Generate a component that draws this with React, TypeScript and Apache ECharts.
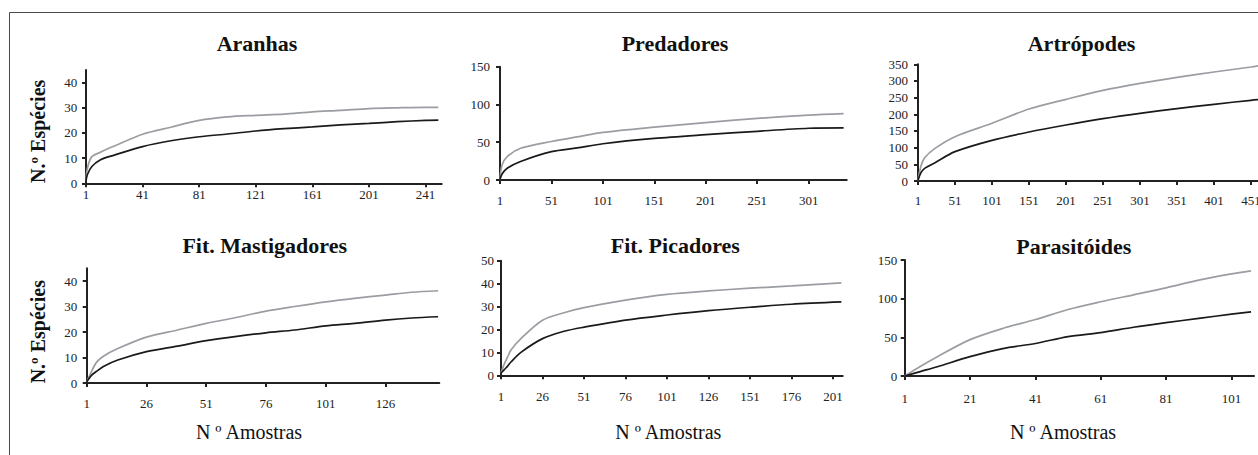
import React, { useEffect, useRef } from "react";
import * as echarts from "echarts";

// ---------- data ----------
const panelTitles = ["Aranhas", "Predadores", "Artrópodes", "Fit. Mastigadores", "Fit. Picadores", "Parasitóides"];
const yAxisTitle = "N.º Espécies";
const xAxisTitle = "N º Amostras";

const aranhasX = [1, 2, 5, 11, 21, 41, 61, 81, 101, 121, 141, 161, 181, 201, 221, 241, 250];
const aranhasEst = [1, 6, 10.5, 12.3, 14.8, 19.5, 22.3, 25, 26.4, 27, 27.5, 28.4, 29, 29.7, 30, 30.2, 30.2];
const aranhasObs = [1, 3.5, 6.6, 9.3, 11.2, 14.6, 16.9, 18.5, 19.6, 20.8, 21.7, 22.4, 23.2, 23.8, 24.5, 25, 25.1];

const predadoresX = [1, 3, 8, 21, 51, 76, 101, 151, 201, 251, 301, 335];
const predadoresEst = [1, 20, 31, 42, 51, 57, 63, 70, 76, 81.5, 86, 88];
const predadoresObs = [1, 8, 15.5, 24.5, 37.5, 42.5, 48, 55, 60, 64.5, 68.5, 69];

const artropodesX = [1, 5, 10, 24, 51, 101, 151, 201, 251, 301, 351, 401, 451, 462];
const artropodesEst = [2, 45, 70, 98, 133, 173, 216, 245, 272, 293, 311, 327, 342, 346];
const artropodesObs = [2, 25, 38, 55, 88, 122, 147, 168, 187, 203, 217, 230, 242, 244];

const mastigadoresX = [1, 3, 5, 8, 14, 26, 39, 51, 63, 76, 88, 101, 113, 126, 137, 148];
const mastigadoresEst = [0.5, 4.5, 8, 10.5, 13.5, 18, 20.8, 23.4, 25.6, 28.2, 30, 31.8, 33.2, 34.5, 35.6, 36.2];
const mastigadoresObs = [0.5, 3, 4.5, 6.5, 9, 12.3, 14.5, 16.6, 18.2, 19.7, 20.8, 22.4, 23.4, 24.7, 25.5, 26];

const picadoresX = [1, 3, 5, 7, 13, 26, 39, 51, 76, 101, 126, 151, 176, 206];
const picadoresEst = [1, 5, 8, 11, 16, 24, 27.3, 29.5, 32.8, 35.3, 36.8, 38, 39, 40.3];
const picadoresObs = [1, 2.5, 4, 5.8, 10, 16, 19.2, 21, 24.1, 26.3, 28.2, 29.7, 31, 32];

const parasitoidesX = [1, 6, 11, 21, 31, 41, 51, 61, 71, 81, 91, 101, 107];
const parasitoidesEst = [0, 13, 25, 47, 61.5, 73, 86, 96, 105, 114, 124, 132, 136];
const parasitoidesObs = [0, 6, 12, 25, 35.5, 42, 51, 56, 63, 69, 74.5, 80, 83];

const aranhasTicks = [1, 41, 81, 121, 161, 201, 241];
const predadoresTicks = [1, 51, 101, 151, 201, 251, 301];
const artropodesTicks = [1, 51, 101, 151, 201, 251, 301, 351, 401, 451];
const mastigadoresTicks = [1, 26, 51, 76, 101, 126];
const picadoresTicks = [1, 26, 51, 76, 101, 126, 151, 176, 201];
const parasitoidesTicks = [1, 21, 41, 61, 81, 101];

const yTicks40 = [0, 10, 20, 30, 40];
const yTicks50 = [0, 10, 20, 30, 40, 50];
const yTicks150 = [0, 50, 100, 150];
const yTicks350 = [0, 50, 100, 150, 200, 250, 300, 350];

// ---------- layout & style ----------
const FONT = "'Liberation Serif', 'Times New Roman', serif";
const GRAY = "#9a9da2";
const BLACK = "#1a1a1a";
const AXIS = "#222222";

const panels = [
  { x: aranhasX, est: aranhasEst, obs: aranhasObs, xt: aranhasTicks, yt: yTicks40, xMax: 252.4, yMax: 45,
    left: 86, top: 70.1, width: 355.7, height: 113.2, xm: 5, ym: 8.7, tx: 257, ty: 43 },
  { x: predadoresX, est: predadoresEst, obs: predadoresObs, xt: predadoresTicks, yt: yTicks150, xMax: 338, yMax: 150,
    left: 500, top: 66.7, width: 346.7, height: 113.3, xm: 13.5, ym: 10, tx: 675, ty: 43 },
  { x: artropodesX, est: artropodesEst, obs: artropodesObs, xt: artropodesTicks, yt: yTicks350, xMax: 462, yMax: 350,
    left: 918, top: 64.3, width: 341.1, height: 116.7, xm: 12.5, ym: 10, tx: 1081.5, ty: 43 },
  { x: mastigadoresX, est: mastigadoresEst, obs: mastigadoresObs, xt: mastigadoresTicks, yt: yTicks40, xMax: 148.5, yMax: 45,
    left: 86.7, top: 268.3, width: 352.6, height: 114.7, xm: 13.8, ym: 9.4, tx: 264.7, ty: 245 },
  { x: picadoresX, est: picadoresEst, obs: picadoresObs, xt: picadoresTicks, yt: yTicks50, xMax: 206.8, yMax: 50,
    left: 501, top: 260.7, width: 341.7, height: 114.6, xm: 14.9, ym: 7, tx: 675.3, ty: 245 },
  { x: parasitoidesX, est: parasitoidesEst, obs: parasitoidesObs, xt: parasitoidesTicks, yt: yTicks150, xMax: 107.9, yMax: 150,
    left: 904.7, top: 260, width: 349.3, height: 116, xm: 15.8, ym: 7.4, tx: 1073.8, ty: 246 },
];

export default function App() {
  const ref = useRef<HTMLDivElement>(null);

  useEffect(() => {
    if (!ref.current) return;
    const chart = echarts.init(ref.current, null, { renderer: "svg" });

    const grid: any[] = [];
    const xAxis: any[] = [];
    const yAxis: any[] = [];
    const series: any[] = [];
    const graphic: any[] = [
      {
        type: "rect",
        shape: { x: 9.5, y: 12.5, width: 1400, height: 600 },
        style: { fill: "none", stroke: "#4a4a4a", lineWidth: 1 },
        silent: true,
      },
    ];

    panels.forEach((p, i) => {
      grid.push({ left: p.left, top: p.top, width: p.width, height: p.height, containLabel: false, outerBoundsMode: "none" });
      xAxis.push({
        type: "value",
        gridIndex: i,
        min: 1,
        max: p.xMax,
        axisLine: { show: true, onZero: false, lineStyle: { color: AXIS, width: 2 } },
        axisTick: { show: true, length: 4, inside: false, customValues: p.xt, lineStyle: { color: AXIS, width: 2 } },
        axisLabel: { customValues: p.xt, margin: p.xm, fontFamily: FONT, fontSize: 13, color: "#222" },
        splitLine: { show: false },
      });
      yAxis.push({
        type: "value",
        gridIndex: i,
        min: 0,
        max: p.yMax,
        axisLine: { show: true, onZero: false, lineStyle: { color: AXIS, width: 2 } },
        axisTick: { show: true, length: 4, inside: false, customValues: p.yt, lineStyle: { color: AXIS, width: 2 } },
        axisLabel: { customValues: p.yt, margin: p.ym, fontFamily: FONT, fontSize: 13, color: "#222" },
        splitLine: { show: false },
      });
      series.push({
        type: "line",
        xAxisIndex: i,
        yAxisIndex: i,
        data: p.x.map((v, k) => [v, p.est[k]]),
        showSymbol: false,
        smooth: 0.3,
        lineStyle: { color: GRAY, width: 1.7 },
        silent: true,
      });
      series.push({
        type: "line",
        xAxisIndex: i,
        yAxisIndex: i,
        data: p.x.map((v, k) => [v, p.obs[k]]),
        showSymbol: false,
        smooth: 0.3,
        lineStyle: { color: BLACK, width: 1.7 },
        silent: true,
      });
      graphic.push({
        type: "text",
        x: p.tx,
        y: p.ty,
        style: {
          text: panelTitles[i],
          fontFamily: FONT,
          fontSize: 22,
          fontWeight: "bold",
          fill: "#111",
          align: "center",
          verticalAlign: "middle",
        },
        silent: true,
      });
    });

    // y-axis titles (left column)
    [131.3, 331.7].forEach((cy) => {
      graphic.push({
        type: "text",
        x: 37.5,
        y: cy,
        rotation: Math.PI / 2,
        style: {
          text: yAxisTitle,
          fontFamily: FONT,
          fontSize: 20,
          fontWeight: "bold",
          fill: "#111",
          align: "center",
          verticalAlign: "middle",
        },
        silent: true,
      });
    });

    // x-axis titles (bottom row)
    [249, 668.3, 1063].forEach((cx) => {
      graphic.push({
        type: "text",
        x: cx,
        y: 432,
        style: {
          text: xAxisTitle,
          fontFamily: FONT,
          fontSize: 20,
          fill: "#111",
          align: "center",
          verticalAlign: "middle",
        },
        silent: true,
      });
    });

    chart.setOption({
      animation: false,
      backgroundColor: "#ffffff",
      grid,
      xAxis,
      yAxis,
      series,
      graphic,
    });

    return () => chart.dispose();
  }, []);

  return (
    <div
      ref={ref}
      style={{ position: "absolute", left: 0, top: 0, width: 1258, height: 455 }}
    />
  );
}
